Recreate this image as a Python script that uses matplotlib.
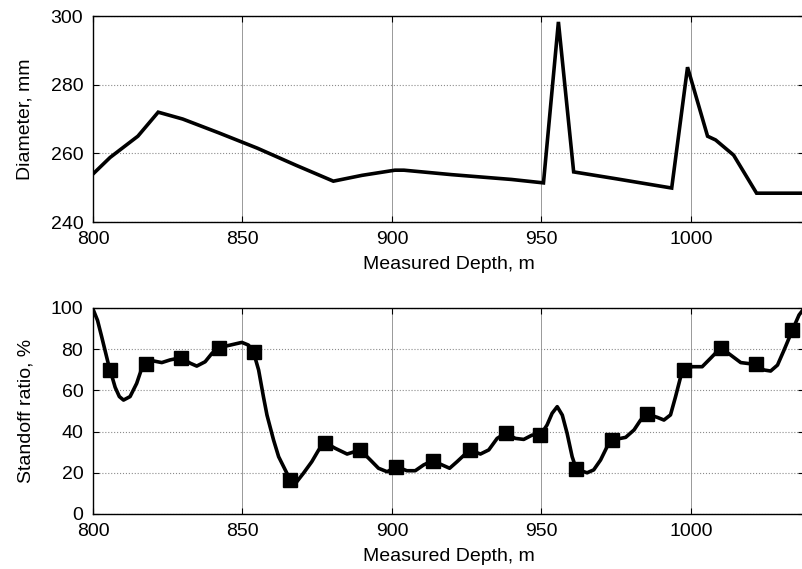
import matplotlib
matplotlib.use("Agg")
import matplotlib.pyplot as plt

# diameter log (top panel)
diam_depth = [800, 805.7, 815, 821.8, 830, 842, 855, 868, 880.4, 890, 901, 904,
              920, 940, 950.7, 955.7, 960.8, 975, 993.6, 998.9, 1005.6, 1008.3,
              1014.3, 1022, 1040]
diameter = [254, 258.8, 265, 272, 270, 266, 261.5, 256.5, 251.9, 253.6, 255.1, 255.1,
            253.8, 252.4, 251.4, 298.3, 254.6, 252.6, 249.9, 285.1, 265, 263.9,
            259.5, 248.4, 248.4]

# standoff ratio curve (bottom panel)
so_depth = [800, 801.5, 802.9, 805.1, 807.4, 808.8, 810.2, 812.4, 814.6, 816.3, 818.2,
            820.2, 823, 825.8, 829.4, 832.5, 834.7, 837.5, 839.8, 842, 845.9, 849.8,
            852, 853.7, 855.4, 857, 858.2, 860.4, 862.1, 864.3, 866, 868.2, 870.4,
            873.2, 875.5, 877.7, 881, 885, 889.4, 892.8, 895.5, 898.4, 901.5, 905,
            907.8, 910.6, 913.6, 916.8, 919.3, 921.8, 926, 929.6, 932.4, 935.2, 938,
            941.3, 944.1, 946.9, 949.7, 951.9, 953.6, 955.3, 957, 958.6, 960.3, 961.7,
            965.3, 967.5, 969.8, 972, 973.7, 978.2, 981, 983.2, 985.5, 988.8, 991,
            993.2, 994.9, 996.6, 997.7, 1000.5, 1003.8, 1006.6, 1010, 1013.3, 1016.7,
            1021.7, 1024.5, 1026.7, 1029, 1031.2, 1034, 1036.2, 1038]
standoff = [99.4, 94, 86, 73, 61.5, 57, 55.3, 57, 63.4, 70.7, 73.8,
            74.3, 73.5, 74.8, 75.9, 73.2, 71.8, 73.9, 78, 80.7, 82, 83.3,
            82, 78.5, 69.9, 57, 48, 35.9, 27.8, 21.4, 16.5, 15.7, 19.8,
            25.4, 31.1, 34.6, 31.9, 29.1, 31.1, 26.2, 22.2, 20.5, 23, 21,
            21, 23.8, 25.9, 23.8, 22.2, 25.4, 31.1, 29.1, 31.1, 36.7, 39.2,
            36.7, 36.2, 38.3, 38.3, 43.2, 48.9, 52.1, 48, 39.2, 27.8, 21.7,
            20, 21.4, 26.2, 32.7, 35.9, 37.2, 40.8, 45.6, 48.4, 46.9, 45.6,
            48.1, 57, 66.6, 69.9, 71.5, 71.5, 75.6, 80.7, 77.2, 73.5,
            72.6, 69.9, 69.4, 72.3, 79.6, 89.3, 96.6, 100]

# square markers
mk_depth = [805.7, 817.7, 829.4, 842, 853.7, 866, 877.7, 889.4, 901.5, 913.6,
            926, 938, 949.7, 961.7, 973.7, 985.5, 997.7, 1010, 1021.7, 1034]
mk_standoff = [70, 72.8, 75.9, 80.7, 78.5, 16.5, 34.6, 31.1, 23, 25.9,
               31.1, 39.2, 38.3, 21.7, 35.9, 48.4, 69.9, 80.7, 72.6, 89.3]

xticks = [800, 850, 900, 950, 1000]

plt.rcParams['font.family'] = ['Liberation Sans', 'DejaVu Sans']
plt.rcParams['font.size'] = 14

fig = plt.figure(figsize=(8.02, 5.69), dpi=100)
ax1 = fig.add_axes([0.116, 0.6098, 1.003 - 0.116, 0.3620])
ax2 = fig.add_axes([0.116, 0.0967, 1.003 - 0.116, 0.3620])

ax1.plot(diam_depth, diameter, color='black', lw=2.6, solid_joinstyle='miter')
ax1.set_ylim(240, 300)
ax1.set_yticks([240, 260, 280, 300])
ax1.set_ylabel('Diameter, mm', labelpad=12)

ax2.plot(so_depth, standoff, color='black', lw=2.6)
ax2.plot(mk_depth, mk_standoff, ls='none', marker='s', ms=10.5, color='black')
ax2.set_ylim(0, 100)
ax2.set_yticks([0, 20, 40, 60, 80, 100])
ax2.set_ylabel('Standoff ratio, %', labelpad=12)

for ax in (ax1, ax2):
    ax.set_xlim(800, 1038)
    ax.set_xticks(xticks)
    ax.set_xlabel('Measured Depth, m', labelpad=6)
    ax.grid(True, axis='x', color='0.6', ls='-', lw=0.7)
    ax.grid(True, axis='y', color='0.55', ls=':', lw=0.8)
    ax.tick_params(direction='in', length=4, top=True, right=True)
    ax.tick_params(axis='x', pad=6.5)
    ax.tick_params(axis='y', pad=7)
    for s in ax.spines.values():
        s.set_linewidth(1.0)

fig.savefig('out.png', dpi=100)
